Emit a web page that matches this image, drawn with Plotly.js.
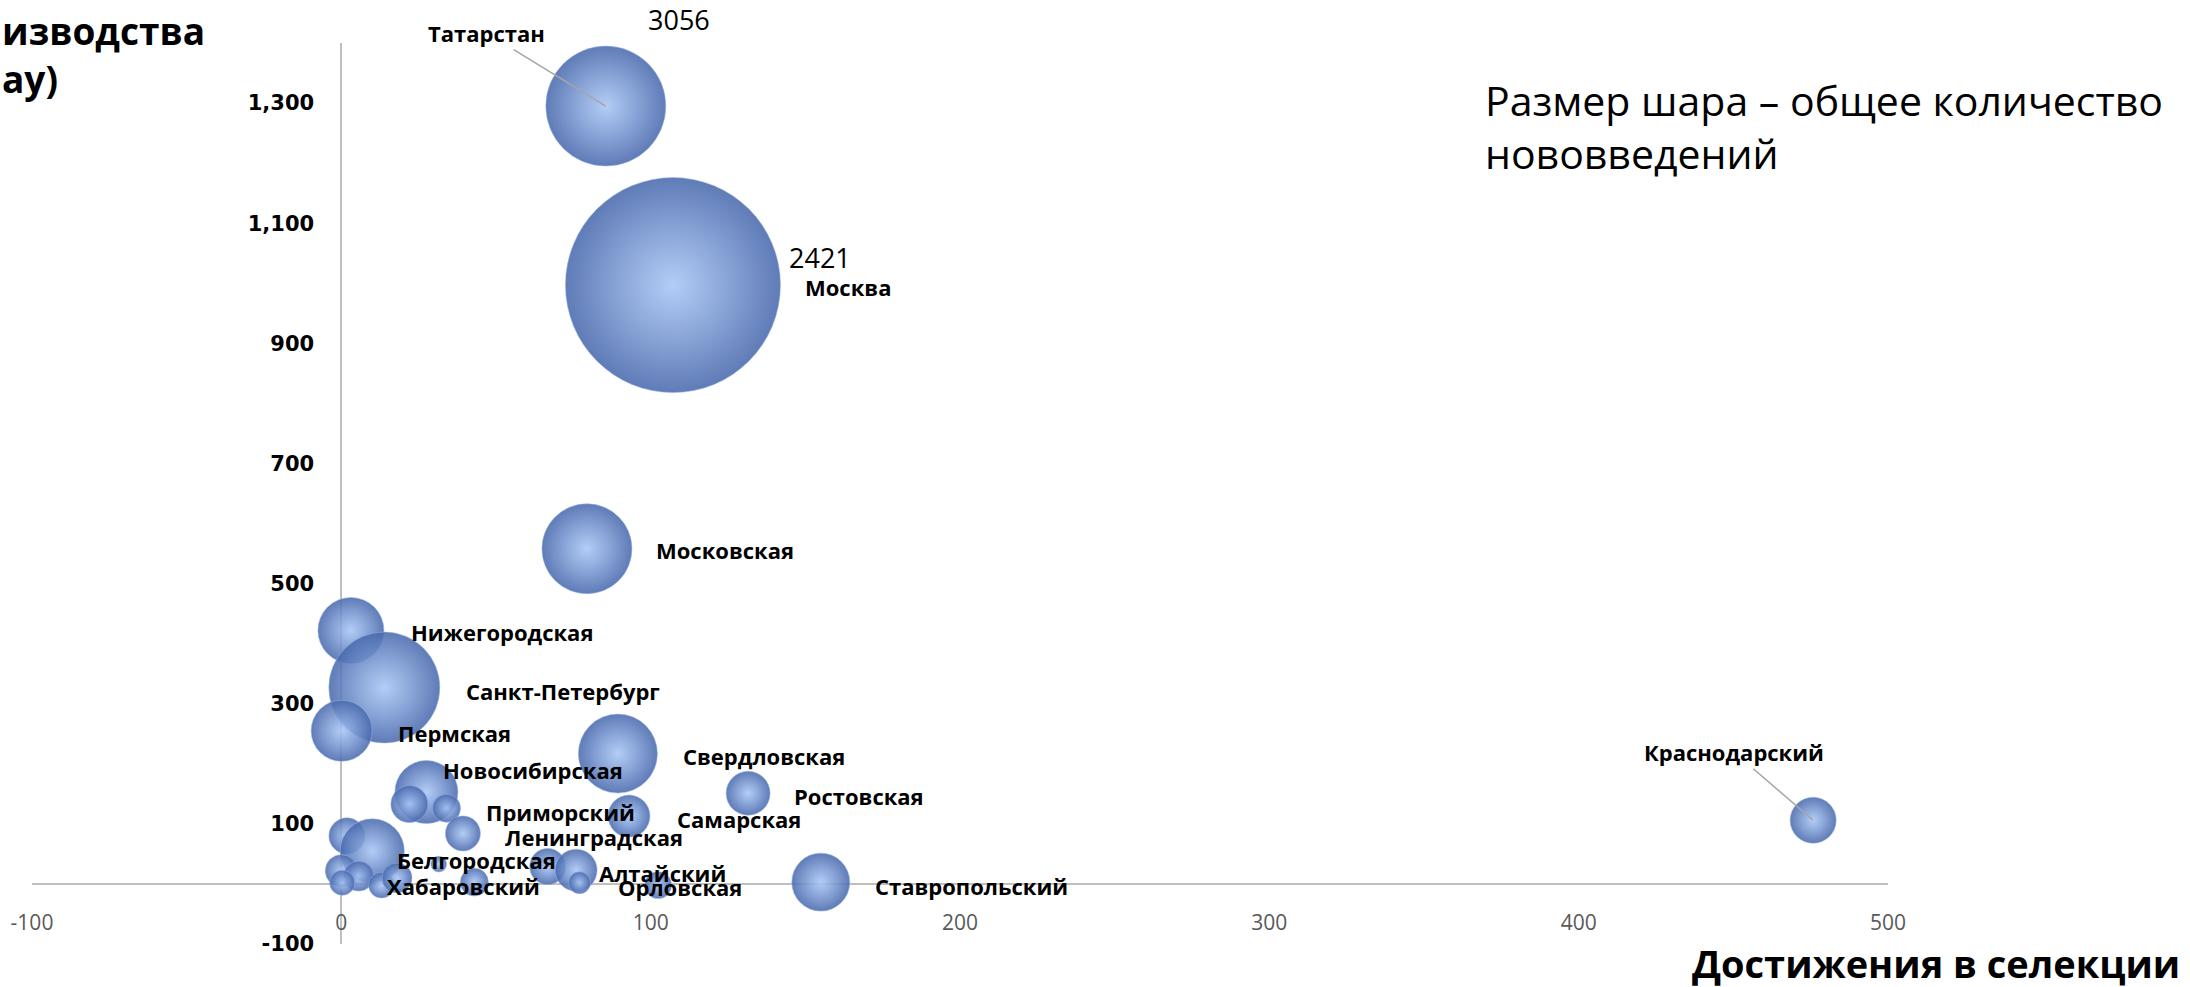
<!DOCTYPE html>
<html>
<head>
<meta charset="utf-8">
<script src="https://cdn.plot.ly/plotly-3.0.1.min.js"></script>
<style>
  html, body { margin: 0; padding: 0; background: #ffffff; }
  #chart { width: 2190px; height: 987px; }
</style>
</head>
<body>
<div id="chart"></div>
<script>
// ---------------- DATA ----------------
const regions = [
  'Татарстан', 'Москва', 'Московская', 'Нижегородская', 'Санкт-Петербург', 'Пермская',
  'Свердловская', 'Новосибирская', '', 'Приморский', 'Ленинградская', 'Самарская',
  'Ростовская', 'Краснодарский', 'Ставропольский', 'Алтайский', '', 'Орловская',
  '', '', '', '', '', '', 'Хабаровский', '', '', 'Белгородская'
];
const selection = [
  85.5, 107.2, 79.4, 3.1, 13.9, 0.1,
  89.4, 27.5, 22, 34, 39.3, 93,
  131.5, 475.8, 155, 66.7, 75.9, 77,
  102.4, 43, 1.8, 10, 0, 5.6, 0.3, 13, 18, 31.5
];
const production = [
  1295, 997, 558, 422, 327, 255,
  217, 153, 133, 126, 84, 113,
  151, 106, 3, 29, 23, 2,
  -2, 3, 80, 55, 22, 13, 2, -2, 10, 33
];
const innovations = [
  754, 2421, 424, 228, 645, 195,
  327, 208, 72, 41, 64, 92,
  101, 111, 176, 68, 92, 25,
  38, 41, 68, 215, 54, 47, 33, 35, 47, 13
];
const sizeNotes = { 'Татарстан': '3056', 'Москва': '2421' };

const xTickVals = [-100, 0, 100, 200, 300, 400, 500];
const xTickText = ['-100', '0', '100', '200', '300', '400', '500'];
const yTickVals = [-100, 100, 300, 500, 700, 900, 1100, 1300];
const yTickText = ['-100', '100', '300', '500', '700', '900', '1,100', '1,300'];

const yTitleLines = ['изводства', 'ау)'];
const xTitleText = 'Достижения в селекции';
const noteLines = ['Размер шара – общее количество', 'нововведений'];

// ---------------- LAYOUT / STYLE ----------------
const X_RANGE = [-100, 500];
const Y_RANGE = [-100, 1400];
const MAX_DIAM = 215;
const PLOT_W = 2190 - 32 - 302;
const PLOT_H = 987 - 43 - 43;

// label left-middle offset from bubble centre in px [dx, dy(down)]
const labelOffsets = {
  'Москва': [130, 2], 'Московская': [67, 1], 'Нижегородская': [58, 2],
  'Санкт-Петербург': [80, 3], 'Пермская': [54, 2], 'Свердловская': [63, 2],
  'Новосибирская': [15, -22], 'Приморский': [37, 4], 'Ленинградская': [40, 4],
  'Самарская': [46, 3], 'Ростовская': [44, 3], 'Белгородская': [-44, -4],
  'Хабаровский': [43, 3], 'Алтайский': [49, 6], 'Орловская': [36, 4],
  'Ставропольский': [52, 4]
};
// leader-line labels: text centre offset [ax, ay]
const leaderLabels = { 'Татарстан': [-119, -73], 'Краснодарский': [-79, -68] };
const noteOffsets = { 'Татарстан': [40, -87], 'Москва': [114, -28] };

const maxSize = Math.max(...innovations);
const sizeref = 2 * maxSize / (MAX_DIAM * MAX_DIAM);

const trace = {
  type: 'scatter',
  mode: 'markers',
  x: selection,
  y: production,
  text: regions,
  hoverinfo: 'text+x+y',
  cliponaxis: false,
  marker: {
    size: innovations,
    sizemode: 'area',
    sizeref: sizeref,
    color: 'rgba(72,104,172,0.87)',
    opacity: 1,
    gradient: { type: 'radial', color: 'rgba(168,198,246,0.87)' },
    line: { width: 0.8, color: 'rgba(150,180,230,0.7)' }
  },
  showlegend: false
};

const labelFont = { family: 'Open Sans', size: 22, color: '#000000' };
const annotations = [];
regions.forEach((name, i) => {
  if (!name) return;
  if (leaderLabels[name]) {
    const [ax, ay] = leaderLabels[name];
    annotations.push({
      x: selection[i], y: production[i], xref: 'x', yref: 'y',
      text: '<b>' + name + '</b>', font: labelFont,
      showarrow: true, arrowhead: 0, arrowwidth: 1.6, arrowcolor: '#A6A6A6',
      ax: ax, ay: ay, standoff: 0
    });
  } else if (labelOffsets[name]) {
    const [dx, dy] = labelOffsets[name];
    annotations.push({
      x: selection[i], y: production[i], xref: 'x', yref: 'y',
      text: '<b>' + name + '</b>', font: labelFont,
      showarrow: false, xanchor: 'left', yanchor: 'middle',
      xshift: dx, yshift: -dy
    });
  }
  if (sizeNotes[name]) {
    const [dx, dy] = noteOffsets[name];
    annotations.push({
      x: selection[i], y: production[i], xref: 'x', yref: 'y',
      text: sizeNotes[name], font: { family: 'Open Sans', size: 27, color: '#000000' },
      showarrow: false, xanchor: 'left', yanchor: 'middle',
      xshift: dx, yshift: -dy
    });
  }
});

// axis titles and the note
annotations.push({
  xref: 'paper', yref: 'paper', x: -32 / PLOT_W, y: (944 - 54) / PLOT_H,
  xanchor: 'left', yanchor: 'middle', align: 'left', showarrow: false,
  text: '<b>' + yTitleLines.join('<br>') + '</b>',
  font: { family: 'Open Sans', size: 37, color: '#000000' }
});
annotations.push({
  xref: 'paper', yref: 'paper', x: (2182 - 32) / PLOT_W, y: (944 - 963) / PLOT_H,
  xanchor: 'right', yanchor: 'middle', showarrow: false,
  text: '<b>' + xTitleText + '</b>',
  font: { family: 'Open Sans', size: 38, color: '#000000' }
});
annotations.push({
  xref: 'paper', yref: 'paper', x: (1483 - 32) / PLOT_W, y: (944 - 127) / PLOT_H,
  xanchor: 'left', yanchor: 'middle', align: 'left', showarrow: false,
  text: noteLines.join('<br>'),
  font: { family: 'Open Sans', size: 41, color: '#000000' }
});

const layout = {
  width: 2190,
  height: 987,
  margin: { l: 32, r: 302, t: 43, b: 43, pad: 0 },
  paper_bgcolor: '#ffffff',
  plot_bgcolor: '#ffffff',
  showlegend: false,
  xaxis: {
    range: X_RANGE,
    anchor: 'free',
    position: (0 - Y_RANGE[0]) / (Y_RANGE[1] - Y_RANGE[0]),
    tickvals: xTickVals,
    ticktext: xTickText,
    ticks: '',
    showgrid: false,
    zeroline: false,
    showline: true,
    linecolor: '#BFBFBF',
    linewidth: 2,
    layer: 'below traces',
    ticklabelstandoff: 20,
    tickfont: { family: 'Open Sans', size: 21, color: '#595959' }
  },
  yaxis: {
    range: Y_RANGE,
    anchor: 'free',
    position: (0 - X_RANGE[0]) / (X_RANGE[1] - X_RANGE[0]),
    tickvals: yTickVals,
    ticktext: yTickText,
    ticks: '',
    showgrid: false,
    zeroline: false,
    showline: true,
    linecolor: '#BFBFBF',
    linewidth: 2,
    layer: 'below traces',
    ticklabelstandoff: 22,
    tickfont: { family: 'DejaVu Sans', size: 21, color: '#000000', weight: 'bold' }
  },
  annotations: annotations
};

Plotly.newPlot('chart', [trace], layout, { displayModeBar: false, staticPlot: true });
</script>
</body>
</html>
